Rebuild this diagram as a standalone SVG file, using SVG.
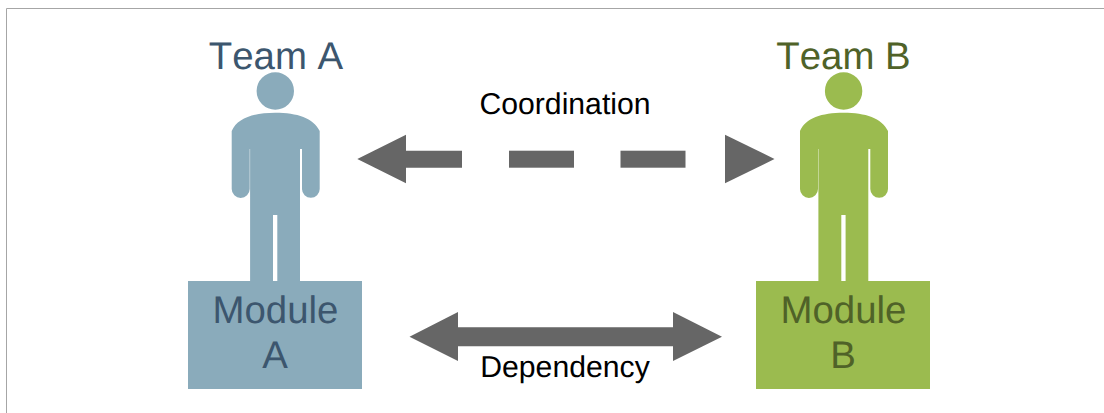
<svg xmlns="http://www.w3.org/2000/svg" width="1104" height="413" viewBox="0 0 1104 413">
<style>
text{font-family:"Liberation Sans",Arial,sans-serif;font-kerning:none;text-rendering:geometricPrecision;text-anchor:middle}
.t{font-size:38.4px}
.l{font-size:30.2px;fill:#000}
.a{fill:#8aabbb}.at{fill:#3c566e}
.b{fill:#9bbb4f}.bt{fill:#4f6228}
.c{fill:#666666}
</style>
<defs>
<path id="person" d="M0-18.700A18.700 18.700 0 1 1 0 18.700A18.700 18.700 0 1 1 0-18.700Z M0 21.700C-22 21.700-38 27-43.600 40V98A9 9 0 0 0-25.600 98V58H-25.200V190H-2.300V124H2V190H24.700V58H26.700V98A8.850 8.850 0 0 0 44.400 98V40C38 27 22 21.700 0 21.700Z"/>
</defs>
<rect width="1104" height="413" fill="#fff"/>
<path d="M6.500 413V8.500H1104" fill="none" stroke="#a6a6a6" stroke-width="1"/>
<g id="connectors">
<path class="c" d="M357.300 159L406 134.700V150.700H462V167.700H406V183.300Z"/>
<rect class="c" x="509" y="150.700" width="65" height="17"/>
<rect class="c" x="620.500" y="150.700" width="65" height="17"/>
<path class="c" d="M774.500 159L725 134.700V183.300Z"/>
<path class="c" d="M409.500 336.700L458 312V327.300H673V312L722 336.700L673 361V346.300H458V361Z"/>
</g>
<g id="team-a">
<text class="t at" x="276" y="69">Team A</text>
<use href="#person" class="a" x="275.300" y="91"/>
</g>
<g id="module-a">
<rect class="a" x="188" y="281" width="174" height="108"/>
<text class="t at" x="275.500" y="323">Module</text>
<text class="t at" x="275" y="367.500">A</text>
</g>
<g id="team-b">
<text class="t bt" x="843.500" y="69">Team B</text>
<use href="#person" class="b" x="843.600" y="91"/>
</g>
<g id="module-b">
<rect class="b" x="756" y="281" width="174" height="108"/>
<text class="t bt" x="843.500" y="323">Module</text>
<text class="t bt" x="843" y="367.500">B</text>
</g>
<g id="coordination-label"><text class="l" x="565" y="114">Coordination</text></g>
<g id="dependency-label"><text class="l" x="565" y="377">Dependency</text></g>
</svg>
